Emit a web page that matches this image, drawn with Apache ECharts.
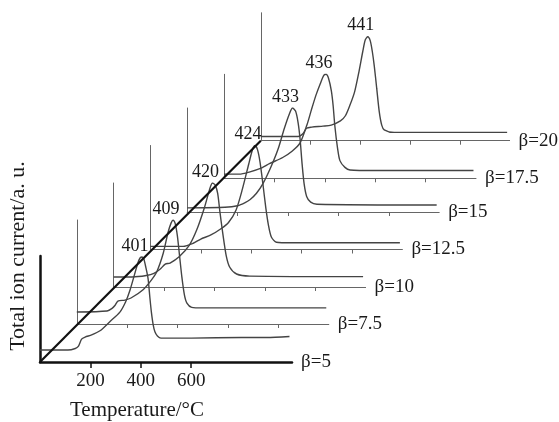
<!DOCTYPE html>
<html>
<head>
<meta charset="utf-8">
<script src="https://cdn.jsdelivr.net/npm/echarts@6/dist/echarts.min.js"></script>
<style>
  html, body { margin: 0; padding: 0; background: #fff; }
  #main { width: 559px; height: 422px; }
</style>
</head>
<body>
<div id="main"></div>
<script>
// heating rates and the peak temperatures written on the figure
var betaLabels = ['β=5', 'β=7.5', 'β=10', 'β=12.5', 'β=15', 'β=17.5', 'β=20'];
var peakLabels = ['401', '409', '420', '424', '433', '436', '441'];
var tempTicks = [200, 400, 600, 800];
var frontTicks = [200, 400, 600];

// traces: [temperature °C, relative ion current]
var beta5 = [[0, 11.5], [111, 11.5], [140, 13], [152, 15], [165, 22], [179, 24], [205, 26], [238, 30], [278, 39],
  [317, 48], [340, 58], [357, 69], [375, 84], [388, 95], [397, 100], [405, 101], [412, 99], [420, 91], [429, 80],
  [436, 62], [442, 48], [449, 36], [456, 29], [466, 25], [480, 23], [600, 23], [800, 23.5], [900, 23.5], [990, 24.5]];
var beta7_5 = [[0, 11.5], [120, 12.5], [140, 15], [152, 18], [163, 22], [191, 23], [215, 25], [263, 33], [295, 42],
  [317, 50], [343, 68], [362, 88], [374, 97], [382, 100], [390, 97], [399, 85], [408, 65], [417, 45], [427, 28],
  [437, 20], [456, 16], [500, 15.5], [990, 15.5]];
var beta10 = [[0, 9.6], [73, 9.6], [130, 11], [160, 13], [184, 17], [205, 22], [224, 23], [260, 29], [300, 40],
  [330, 55], [360, 76], [380, 93], [392, 100], [403, 98], [413, 90], [422, 72], [433, 52], [447, 30], [461, 19],
  [488, 12.5], [540, 10.5], [990, 10]];
var beta12_5 = [[0, 3], [130, 3], [170, 6], [200, 10], [240, 14], [280, 20], [310, 26], [340, 38], [365, 58],
  [390, 82], [405, 96], [415, 100], [425, 96], [435, 84], [447, 62], [458, 40], [468, 24], [480, 12], [500, 7],
  [560, 6.5], [990, 6.5]];
var beta15 = [[0, 4], [150, 4.5], [200, 6], [230, 9], [250, 12], [275, 18], [300, 27], [330, 42], [360, 60],
  [385, 80], [405, 94], [418, 100], [430, 97], [440, 86], [448, 70], [456, 46], [464, 27], [474, 15], [490, 9.5],
  [515, 7.5], [990, 6.7]];
var beta17_5 = [[0, 4], [60, 4], [100, 6], [150, 10], [180, 14], [233, 20], [270, 26], [302, 34], [330, 52],
  [347, 66], [365, 80], [382, 91], [396, 99], [405, 100], [415, 96], [426, 84], [433, 70], [440, 50], [450, 30],
  [460, 17], [480, 10.5], [500, 8], [600, 7.5], [990, 7.5]];
var beta20 = [[0, 4], [150, 4], [170, 7], [184, 12], [205, 13], [250, 14], [283, 15], [320, 19], [340, 24],
  [358, 34], [377, 47], [395, 67], [410, 86], [420, 97], [430, 100], [440, 96], [448, 86], [456, 72], [466, 50],
  [476, 28], [486, 15], [496, 10.5], [536, 8], [990, 8]];

var traces = [beta5, beta7_5, beta10, beta12_5, beta15, beta17_5, beta20];
var yTop = [102, 100, 100, 100, 100, 100, 123];   // height of each little frame's vertical line

// each trace gets its own grid, shifted up and right along the diagonal
var axisY = [362, 324, 287, 249.5, 212, 178.3, 140.7];
var pxPerUnit = 1.04;
var font = 'Liberation Serif, Times New Roman, serif';

var grids = [], xAxes = [], yAxes = [], series = [];
for (var i = 0; i < traces.length; i++) {
  var front = i === 0;
  grids.push({
    left: 40 + i * 36.8,
    width: 252,
    bottom: 422 - axisY[i],
    height: yTop[i] * pxPerUnit
  });
  xAxes.push({
    type: 'value', gridIndex: i, min: 0, max: 1000, interval: 200,
    name: betaLabels[i], nameLocation: 'end', nameGap: 9,
    nameTextStyle: { color: '#1a1a1a', fontSize: 19, fontFamily: font },
    axisLine: { lineStyle: { color: front ? '#111' : '#666', width: front ? 2.5 : 1 } },
    axisTick: {
      show: true, length: front ? 6 : 4,
      customValues: front ? frontTicks : tempTicks,
      lineStyle: { color: front ? '#111' : '#666', width: front ? 1.5 : 1 }
    },
    axisLabel: {
      show: front, customValues: frontTicks, margin: 10,
      color: '#1a1a1a', fontSize: 19, fontFamily: font
    },
    splitLine: { show: false }
  });
  yAxes.push({
    type: 'value', gridIndex: i, min: 0, max: yTop[i],
    axisLine: { show: true, lineStyle: { color: front ? '#111' : '#666', width: front ? 2.5 : 1 } },
    axisTick: { show: false },
    axisLabel: { show: false },
    splitLine: { show: false }
  });
  series.push({
    type: 'line', xAxisIndex: i, yAxisIndex: i,
    data: traces[i],
    smooth: 0.25,
    showSymbol: false,
    lineStyle: { color: '#444', width: 1.4 },
    markPoint: {
      symbol: 'circle', symbolSize: 0,
      data: [{ type: 'max' }],
      label: {
        show: true, position: 'top', distance: 2, offset: [-7, 0],
        formatter: peakLabels[i],
        color: '#1a1a1a', fontSize: 18, fontFamily: font
      }
    }
  });
}

var myChart = echarts.init(document.getElementById('main'));
myChart.setOption({
  animation: false,
  grid: grids,
  xAxis: xAxes,
  yAxis: yAxes,
  series: series
});

// diagonal joining the origins of the front and back frames
var p0 = myChart.convertToPixel({ gridIndex: 0 }, [0, 0]);
var p6 = myChart.convertToPixel({ gridIndex: 6 }, [0, 0]);
myChart.setOption({
  graphic: [
    {
      type: 'line', z: 10,
      shape: { x1: p0[0], y1: p0[1], x2: p6[0], y2: p6[1] },
      style: { stroke: '#111', lineWidth: 2.2 }
    },
    {
      type: 'text', x: 18, y: 256, rotation: Math.PI / 2,
      style: {
        text: 'Total ion current/a. u.', fill: '#1a1a1a',
        font: '22px ' + font, align: 'center', verticalAlign: 'middle'
      }
    },
    {
      type: 'text', x: 137, y: 410,
      style: {
        text: 'Temperature/°C', fill: '#1a1a1a',
        font: '21px ' + font, align: 'center', verticalAlign: 'middle'
      }
    }
  ]
});
</script>
</body>
</html>
